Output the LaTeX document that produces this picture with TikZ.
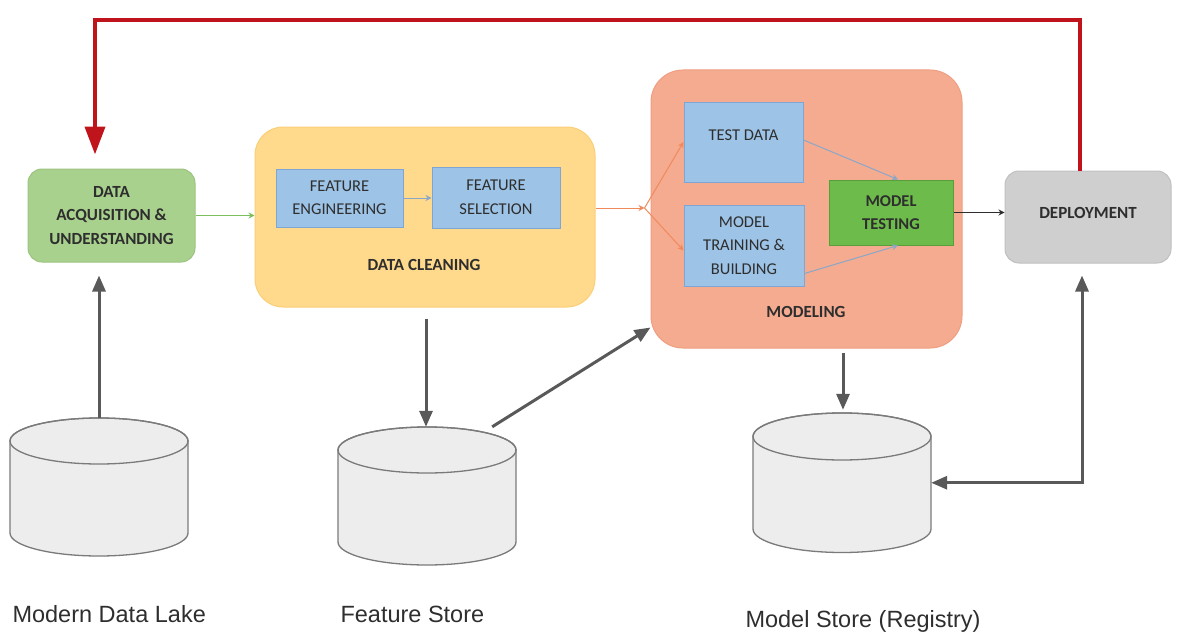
\documentclass[tikz,border=0pt]{standalone}
\usepackage{fontspec}
\setmainfont{Liberation Sans}
\newfontfamily\boxfnt{Carlito}
\usetikzlibrary{arrows.meta}
\definecolor{acqfill}{HTML}{A9D18E}
\definecolor{acqdraw}{HTML}{9CC47F}
\definecolor{cleanfill}{HTML}{FFD98C}
\definecolor{cleandraw}{HTML}{FBCF78}
\definecolor{bluefill}{HTML}{9DC3E6}
\definecolor{bluedraw}{HTML}{7FA5D3}
\definecolor{modfill}{HTML}{F5AB90}
\definecolor{moddraw}{HTML}{EF9E80}
\definecolor{mtfill}{HTML}{6DBB4A}
\definecolor{mtdraw}{HTML}{5A9E3C}
\definecolor{depfill}{HTML}{CFCFCF}
\definecolor{depdraw}{HTML}{C0C0C0}
\definecolor{cylfill}{HTML}{EDEDED}
\definecolor{cyldraw}{HTML}{7A7A7A}
\definecolor{txt}{HTML}{2E2E2E}
\definecolor{gline}{HTML}{595959}
\definecolor{redline}{HTML}{C0141C}
\definecolor{grnline}{HTML}{7CBF5C}
\definecolor{orline}{HTML}{F08A5D}
\definecolor{blline}{HTML}{8AA7C9}
\newcommand\cylgfx[4]{% cx, top centre y, bottom centre y, ry
  \filldraw[fill=cylfill,draw=cyldraw,line width=1.3pt]
    (#1-89,#2) -- (#1-89,#3) arc[start angle=180,end angle=360,x radius=89pt,y radius=#4pt]
    -- (#1+89,#2) arc[start angle=0,end angle=180,x radius=89pt,y radius=#4pt] -- cycle;
  \draw[cyldraw,line width=1.3pt] (#1,#2) ellipse[x radius=89pt,y radius=#4pt];
}
\begin{document}
\begin{tikzpicture}[x=1pt,y=-1pt,
  bigbox/.style={rounded corners=#1, inner sep=0pt},
  stage/.style={rounded corners=14pt, inner sep=0pt, text=txt, align=center,
     font=\boxfnt\bfseries\fontsize{17}{23.5}\selectfont},
  inbox/.style={fill=bluefill, draw=bluedraw, line width=1pt, inner sep=0pt, text=txt,
     align=center, font=\boxfnt\fontsize{16.5}{23.5}\selectfont},
  boxlbl/.style={font=\boxfnt\bfseries\fontsize{17}{20}\selectfont},
  cylnode/.style={inner sep=0pt, minimum width=178pt},
  storelbl/.style={anchor=base west, text=txt, font=\fontsize{23.5}{26}\selectfont},
  garrow/.style={draw=gline, line width=3pt, -{Triangle[width=13pt,length=16pt]}},
  thin/.style={line width=1pt, -{Stealth[width=6pt,length=6pt]}},
  redarrow/.style={draw=redline, line width=4pt, -{Triangle[width=20pt,length=28pt]}}
]
\useasboundingbox (0,0) rectangle (1192,634);

% big containers
\node[bigbox=28pt, fill=cleanfill, draw=cleandraw, line width=1pt,
      minimum width=340pt, minimum height=180pt] (clean) at (425,217) {};
\node[bigbox=32pt, fill=modfill, draw=moddraw, line width=1pt,
      minimum width=311pt, minimum height=278pt] (model) at (806.5,209) {};

% stages
\node[stage, fill=acqfill, draw=acqdraw, line width=1pt, minimum width=167pt, minimum height=93pt]
  (acq) at (111.5,215.5) {DATA\\ACQUISITION \&\\UNDERSTANDING};
\node[stage, fill=depfill, draw=depdraw, line width=1pt, minimum width=166pt, minimum height=92pt,
      text height=11pt, text depth=9pt]
  (deploy) at (1088,217) {DEPLOYMENT};

% inner boxes
\node[inbox, minimum width=127pt, minimum height=58pt] (fe) at (339.5,198) {FEATURE\\ENGINEERING};
\node[inbox, minimum width=128pt, minimum height=61pt] (fs) at (496,197.5) {FEATURE\\SELECTION};
\node[boxlbl, text=txt] (cleanlbl) at (424,265) {DATA CLEANING};

\node[inbox, minimum width=119pt, minimum height=80pt, text height=11pt, text depth=14pt]
  (test) at (743.5,142) {TEST DATA};
\node[inbox, minimum width=120pt, minimum height=81pt] (train) at (744,245.5) {MODEL\\TRAINING \&\\BUILDING};
\node[inbox, fill=mtfill, draw=mtdraw, font=\boxfnt\bfseries\fontsize{16.5}{23.5}\selectfont,
      minimum width=124pt, minimum height=65pt] (mtest) at (891,212.5) {MODEL\\TESTING};
\node[boxlbl, text=txt] (modellbl) at (806,312) {MODELING};

% cylinders
\cylgfx{99}{441}{533}{23}
\node[cylnode, minimum height=138pt] (lake) at (99,487) {};
\cylgfx{427}{450}{542}{23}
\node[cylnode, minimum height=138pt] (fstore) at (427,496) {};
\cylgfx{842}{436.5}{529}{23.5}
\node[cylnode, minimum height=139.5pt] (mstore) at (842,482.75) {};

\node[storelbl] (lakelbl) at (9,622) {Modern Data Lake};
\node[storelbl] (fstorelbl) at (337,622) {Feature Store};
\node[storelbl] (mstorelbl) at (742,627) {Model Store (Registry)};

% thin flow arrows
\draw[thin, draw=grnline] (acq.east) -- (clean.west |- acq.east);
\draw[thin, draw=blline] (fe.east) -- (fs.west |- fe.east);
\coordinate (split) at ([xshift=-6pt,yshift=1pt]model.west);
\draw[thin, draw=orline] (clean.east |- split) -- (split);
\draw[thin, draw=orline] (split) -- (test.west);
\draw[thin, draw=orline] (split) -- ([yshift=-5pt]train.west);
\draw[thin, draw=blline] ([yshift=2pt]test.east) -- ([xshift=7pt]mtest.north);
\draw[thin, draw=blline] ([yshift=-28pt]train.east) -- ([xshift=7pt]mtest.south);
\draw[thin, draw=txt] (mtest.east) -- (deploy.west |- mtest.east);

% gray store arrows
\draw[garrow, shorten >=13pt] (lake.north) -- (lake.north |- acq.south);
\draw[garrow, shorten <=11pt] ([xshift=1pt]clean.south) -- ([xshift=-1pt]fstore.north);
\draw[garrow] ([xshift=-24pt]fstore.north east) -- ([yshift=21pt]model.south west);
\draw[garrow, shorten <=4pt, shorten >=3pt] ([xshift=36.5pt]model.south) -- ([xshift=36.5pt]model.south |- mstore.north);
\draw[garrow, {Triangle[width=13pt,length=16pt]}-{Triangle[width=13pt,length=16pt]}, shorten <=12pt]
  ([xshift=-6pt]deploy.south) |- (mstore.east);

% red feedback loop
\coordinate (fbtop) at (600,20);
\draw[redarrow, shorten >=14pt] ([xshift=-8pt]deploy.north) |- (fbtop) -| ([xshift=-16.5pt]acq.north);
\end{tikzpicture}
\end{document}
